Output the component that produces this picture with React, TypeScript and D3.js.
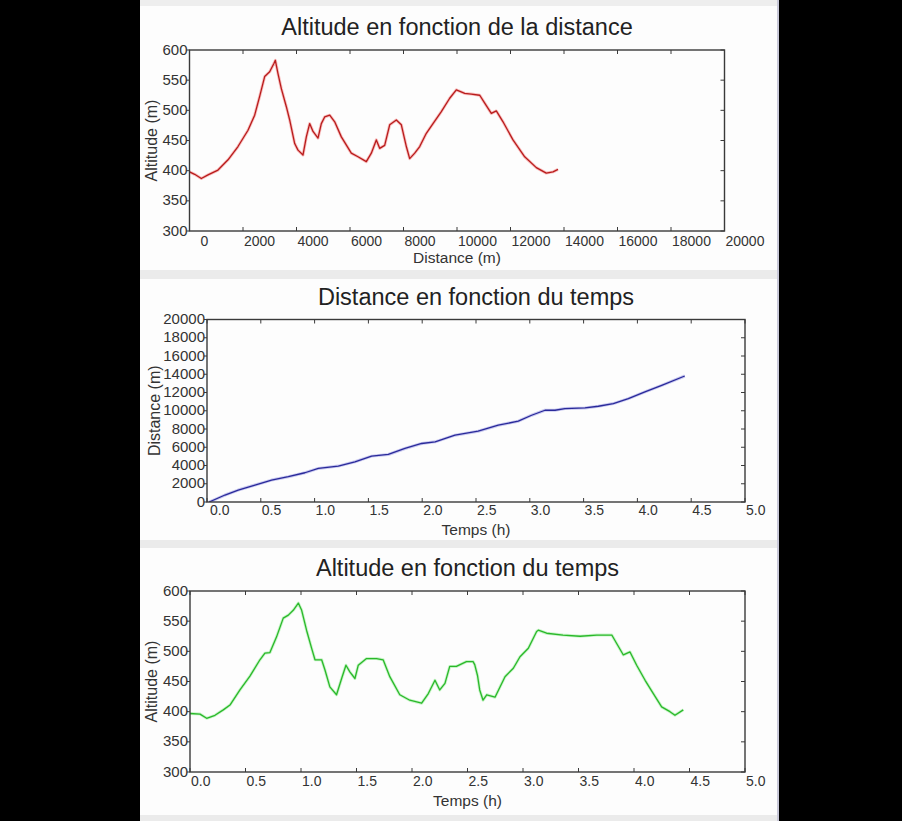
import React from "react";
import * as d3 from "d3";

// ---------- data ----------
// Altitude (m) vs distance (m)
const altDistDistance = [0, 193, 442, 692, 1065, 1440, 1813, 2187, 2436, 2623, 2810, 2997, 3160, 3209, 3308, 3433, 3620, 3745, 3932, 4056, 4243, 4368, 4492, 4617, 4804, 4928, 5053, 5241, 5428, 5676, 6049, 6299, 6610, 6797, 6984, 7109, 7296, 7484, 7732, 7919, 8106, 8231, 8419, 8606, 8853, 9103, 9414, 9727, 9975, 10288, 10535, 10850, 11036, 11283, 11470, 11720, 12093, 12531, 12965, 13338, 13589, 13776];
const altDistAltitude = [398, 394, 387, 393, 401, 418, 440, 467, 492, 523, 556, 564, 578, 583, 561, 536, 506, 484, 445, 434, 426, 456, 478, 465, 454, 478, 489, 492, 481, 456, 429, 423, 415, 429, 451, 437, 442, 476, 484, 476, 440, 420, 429, 440, 462, 478, 498, 520, 534, 528, 527, 525, 512, 495, 499, 481, 451, 423, 405, 396, 398, 402];

// Distance (m) vs time (h)
const distTimeTime = [0.02, 0.167, 0.29, 0.446, 0.6, 0.756, 0.91, 1.035, 1.22, 1.375, 1.53, 1.685, 1.84, 1.995, 2.12, 2.305, 2.52, 2.707, 2.893, 3.017, 3.141, 3.234, 3.327, 3.513, 3.637, 3.776, 3.916, 4.07, 4.226, 4.44];
const distTimeDistance = [0, 765, 1311, 1858, 2404, 2769, 3206, 3680, 3934, 4408, 5027, 5209, 5865, 6412, 6594, 7322, 7760, 8415, 8853, 9508, 10055, 10055, 10237, 10310, 10492, 10784, 11330, 12058, 12787, 13807];

// Altitude (m) vs time (h)
const altTimeTime = [0, 0.09, 0.15, 0.225, 0.3, 0.36, 0.45, 0.54, 0.63, 0.675, 0.72, 0.78, 0.84, 0.886, 0.93, 0.976, 1.006, 1.05, 1.096, 1.126, 1.186, 1.216, 1.26, 1.32, 1.366, 1.405, 1.44, 1.486, 1.516, 1.59, 1.68, 1.74, 1.8, 1.89, 1.98, 2.087, 2.147, 2.207, 2.25, 2.297, 2.34, 2.4, 2.49, 2.55, 2.565, 2.59, 2.61, 2.64, 2.673, 2.748, 2.793, 2.838, 2.913, 2.973, 3.048, 3.123, 3.138, 3.213, 3.36, 3.514, 3.664, 3.8, 3.844, 3.904, 3.964, 4.024, 4.1, 4.174, 4.249, 4.324, 4.369, 4.444];
const altTimeAltitude = [397, 396, 389, 394, 403, 411, 436, 459, 486, 497, 498, 524, 555, 560, 568, 580, 568, 535, 505, 486, 486, 469, 441, 428, 455, 477, 466, 455, 477, 488, 488, 486, 458, 428, 419, 414, 430, 452, 436, 447, 475, 475, 483, 483, 478, 460, 436, 419, 428, 424, 441, 458, 472, 491, 505, 533, 535, 530, 527, 525, 527, 527, 513, 494, 499, 477, 452, 430, 408, 400, 394, 403];

// Ticks
const distanceTicks = [0, 2000, 4000, 6000, 8000, 10000, 12000, 14000, 16000, 18000, 20000];
const timeTicks = [0, 0.5, 1, 1.5, 2, 2.5, 3, 3.5, 4, 4.5, 5];
const altitudeTicks = [300, 350, 400, 450, 500, 550, 600];

const FONT = "'Liberation Sans', Arial, Helvetica, sans-serif";

type PanelProps = {
  box: { l: number; r: number; t: number; b: number };
  xDomain: [number, number];
  yDomain: [number, number];
  xTicks: number[];
  yTicks: number[];
  xFmt: (v: number) => string;
  xs: number[];
  ys: number[];
  color: string;
  halo: string;
  title: string;
  xTitle: string;
  yTitle: string;
  titleY: number;
  xTickY: number;
  xTitleY: number;
  yTitleX: number;
  firstOffset: number;
  id: string;
};

function Panel(p: PanelProps) {
  const { box } = p;
  const x = d3.scaleLinear().domain(p.xDomain).range([box.l, box.r]);
  const y = d3.scaleLinear().domain(p.yDomain).range([box.b, box.t]);
  const pts: [number, number][] = p.xs.map((v, i) => [v, p.ys[i]]);
  const line = d3
    .line<[number, number]>()
    .x((d) => x(d[0]))
    .y((d) => y(d[1]));
  const path = line(pts) || "";
  const cx = (box.l + box.r) / 2;
  const cy = (box.t + box.b) / 2;
  const tk = 4;
  const frame = "#3a3a3a";
  return (
    <g>
      <text x={cx} y={p.titleY} textAnchor="middle" fontFamily={FONT} fontSize={23.5} fill="#222">
        {p.title}
      </text>
      <defs>
        <clipPath id={p.id}>
          <rect x={box.l} y={box.t} width={box.r - box.l} height={box.b - box.t} />
        </clipPath>
      </defs>
      <g clipPath={`url(#${p.id})`}>
        <path d={path} fill="none" stroke={p.halo} strokeWidth={3} strokeOpacity={0.3} strokeLinejoin="round" />
        <path d={path} fill="none" stroke={p.color} strokeWidth={1.3} strokeLinejoin="round" />
      </g>
      {p.xTicks.map((v, i) => (
        <g key={"xt" + i}>
          <line x1={x(v)} x2={x(v)} y1={box.b} y2={box.b - tk} stroke={frame} strokeWidth={1} />
          <line x1={x(v)} x2={x(v)} y1={box.t} y2={box.t + tk} stroke={frame} strokeWidth={1} />
          <text
            x={x(v) + (i === 0 ? p.firstOffset : 1)}
            y={p.xTickY}
            textAnchor="start"
            fontFamily={FONT}
            fontSize={14}
            fill="#333"
          >
            {p.xFmt(v)}
          </text>
        </g>
      ))}
      {p.yTicks.map((v, i) => (
        <g key={"yt" + i}>
          <line x1={box.l - 3} x2={box.l} y1={y(v)} y2={y(v)} stroke={frame} strokeWidth={1} />
          <line x1={box.r} x2={box.r - tk} y1={y(v)} y2={y(v)} stroke={frame} strokeWidth={1} />
          <text
            x={box.l - 2}
            y={y(v) + 4.5}
            textAnchor="end"
            fontFamily={FONT}
            fontSize={15}
            fill="#333"
          >
            {String(v)}
          </text>
        </g>
      ))}
      <rect
        x={box.l}
        y={box.t}
        width={box.r - box.l}
        height={box.b - box.t}
        fill="none"
        stroke={frame}
        strokeWidth={1.4}
      />
      <text x={cx} y={p.xTitleY} textAnchor="middle" fontFamily={FONT} fontSize={15.5} fill="#333">
        {p.xTitle}
      </text>
      <text
        transform={`translate(${p.yTitleX},${cy}) rotate(-90)`}
        textAnchor="middle"
        dominantBaseline="central"
        fontFamily={FONT}
        fontSize={16}
        fill="#333"
      >
        {p.yTitle}
      </text>
    </g>
  );
}

export default function App() {
  const W = 902;
  const H = 821;
  return (
    <svg
      width={W}
      height={H}
      style={{ position: "absolute", left: 0, top: 0, display: "block" }}
    >
      <rect x={0} y={0} width={W} height={H} fill="#000" />
      <rect x={140} y={0} width={638} height={H} fill="#fdfdfd" />
      <rect x={140} y={0} width={638} height={6} fill="#eeeeee" />
      <rect x={140} y={270} width={638} height={9} fill="#ebebeb" />
      <rect x={140} y={540} width={638} height={8} fill="#ebebeb" />
      <rect x={140} y={815} width={638} height={6} fill="#ebebeb" />
      <rect x={777} y={0} width={2} height={H} fill="#c8c8d8" />

      <Panel
        id="c1"
        box={{ l: 189.5, r: 724.5, t: 50, b: 231 }}
        xDomain={[0, 20000]}
        yDomain={[300, 600]}
        xTicks={distanceTicks}
        yTicks={altitudeTicks}
        xFmt={(v) => String(v)}
        xs={altDistDistance}
        ys={altDistAltitude}
        color="#b81c1c"
        halo="#ee3030"
        title="Altitude en fonction de la distance"
        xTitle="Distance (m)"
        yTitle="Altitude (m)"
        titleY={35}
        xTickY={246}
        xTitleY={263}
        yTitleX={151}
        firstOffset={11}
      />
      <Panel
        id="c2"
        box={{ l: 207, r: 745, t: 319.5, b: 502 }}
        xDomain={[0, 5]}
        yDomain={[0, 20000]}
        xTicks={timeTicks}
        yTicks={distanceTicks}
        xFmt={(v) => v.toFixed(1)}
        xs={distTimeTime}
        ys={distTimeDistance}
        color="#2a2a9a"
        halo="#5050d0"
        title="Distance en fonction du temps"
        xTitle="Temps (h)"
        yTitle="Distance (m)"
        titleY={305}
        xTickY={515}
        xTitleY={535}
        yTitleX={154}
        firstOffset={3}
      />
      <Panel
        id="c3"
        box={{ l: 190, r: 745, t: 591, b: 772 }}
        xDomain={[0, 5]}
        yDomain={[300, 600]}
        xTicks={timeTicks}
        yTicks={altitudeTicks}
        xFmt={(v) => v.toFixed(1)}
        xs={altTimeTime}
        ys={altTimeAltitude}
        color="#2ab82a"
        halo="#50e050"
        title="Altitude en fonction du temps"
        xTitle="Temps (h)"
        yTitle="Altitude (m)"
        titleY={576}
        xTickY={786}
        xTitleY={806}
        yTitleX={151}
        firstOffset={1}
      />
    </svg>
  );
}
